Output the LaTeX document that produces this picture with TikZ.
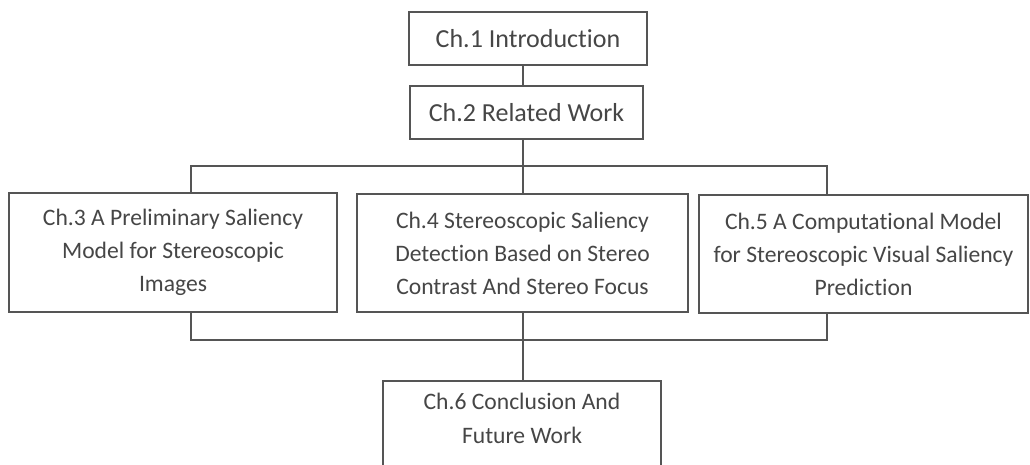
\documentclass[tikz,border=0pt]{standalone}
\usepackage{fontspec}
\setmainfont[Ligatures=NoCommon]{Carlito}
\usetikzlibrary{backgrounds}
\definecolor{inkline}{RGB}{85,85,85}
\definecolor{inktext}{RGB}{70,70,70}
\begin{document}
\begin{tikzpicture}[x=1pt,y=-1pt,
  chapter/.style={draw=inkline, line width=1.3pt, fill=white, inner sep=0pt,
    align=center, text=inktext, font=\fontsize{26}{33}\selectfont},
  bigchapter/.style={chapter, font=\fontsize{23.6}{33}\selectfont},
  link/.style={draw=inkline, line width=1.3pt}]
  \useasboundingbox (0,0) rectangle (1030,465);
  \clip (0,0) rectangle (1030,465);
  % chapter boxes
  \node[chapter, minimum width=238pt, minimum height=53pt] (c1) at (528,38.5) {Ch.1 Introduction};
  \node[chapter, minimum width=233pt, minimum height=53pt] (c2) at (526.5,112.5) {Ch.2 Related Work};
  \node[bigchapter, minimum width=328pt, minimum height=119pt] (c3) at (173,252.5)
    {Ch.3 A Preliminary Saliency\\Model for Stereoscopic\\Images};
  \node[bigchapter, minimum width=331pt, minimum height=118pt] (c4) at (522.5,253)
    {Ch.4 Stereoscopic Saliency\\Detection Based on Stereo\\Contrast And Stereo Focus};
  \node[bigchapter, minimum width=329pt, minimum height=118pt] (c5) at (863.5,254)
    {Ch.5 A Computational Model\\for Stereoscopic Visual Saliency\\Prediction};
  \node[bigchapter, minimum width=278pt, minimum height=120pt, font=\fontsize{23.6}{34}\selectfont]
    (c6) at (522,441) {Ch.6 Conclusion And\\Future Work\\[12pt]};
  % connector geometry
  \coordinate (spine) at (523,0);
  \coordinate (fanin) at (191,166);
  \coordinate (fanout) at (827,340);
  \begin{scope}[on background layer]
    \draw[link] (c1.south -| spine) -- (c2.north -| spine);
    \draw[link] (c2.south -| spine) -- (c6.north -| spine);
    \draw[link] (fanin) rectangle (fanout);
  \end{scope}
\end{tikzpicture}
\end{document}
